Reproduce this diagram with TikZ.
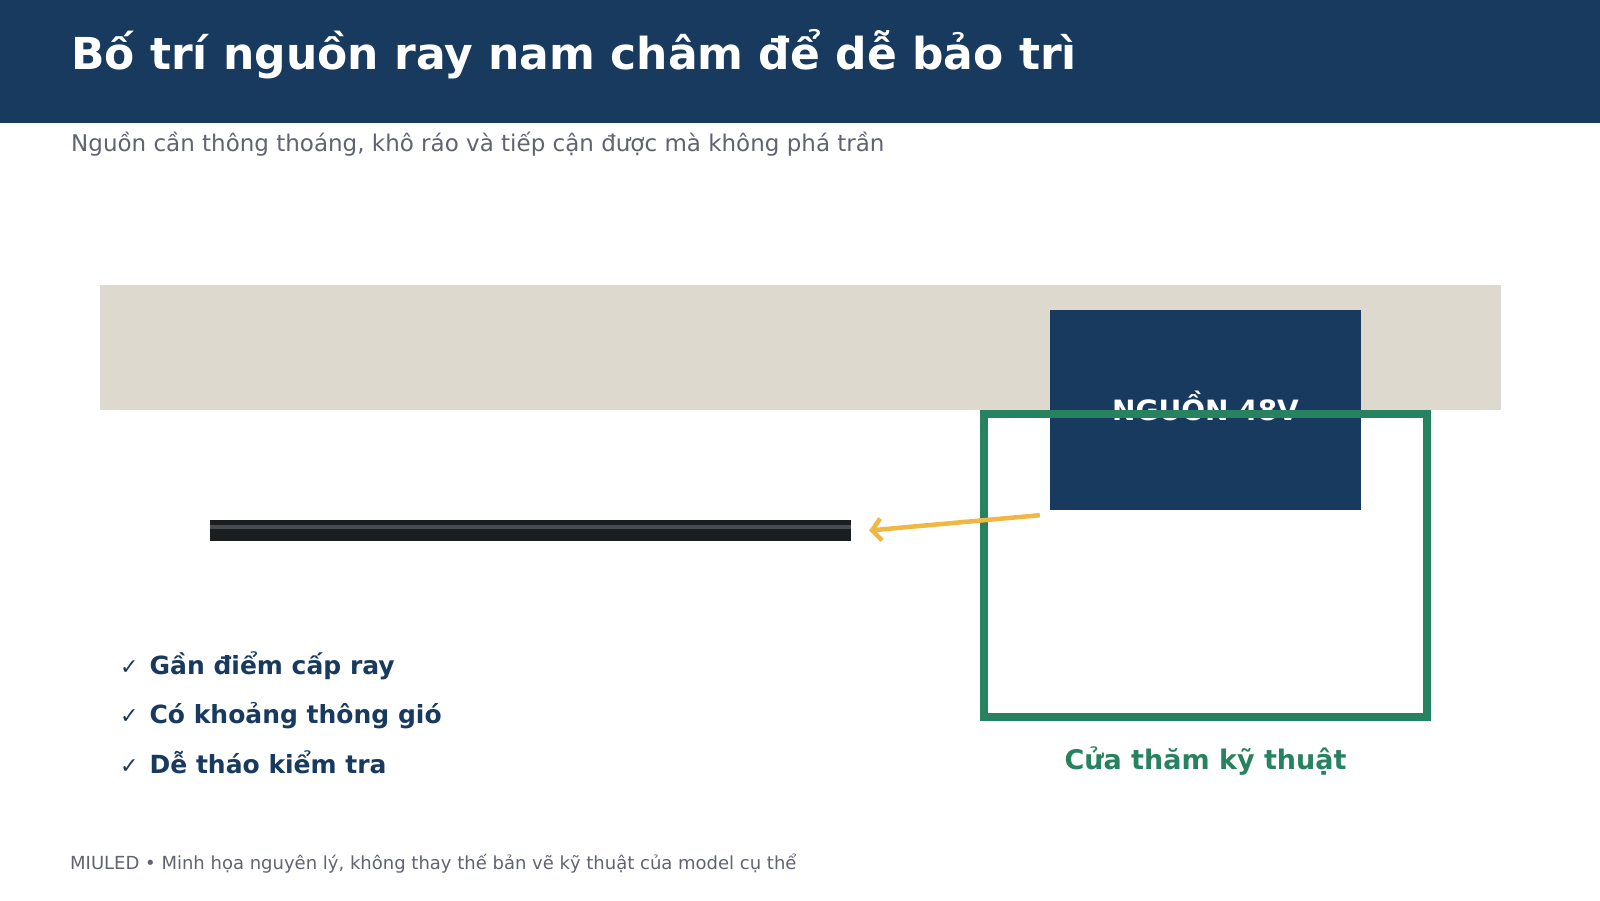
\documentclass[tikz,border=0pt]{standalone}
\usepackage{fontspec}
\setmainfont{DejaVu Sans}
\usetikzlibrary{arrows.meta}

\definecolor{navy}{HTML}{173A5E}
\definecolor{ceiling}{HTML}{DDD9CE}
\definecolor{doorgreen}{HTML}{27825F}
\definecolor{feedorange}{HTML}{F0B842}
\definecolor{greytext}{HTML}{5F6470}
\definecolor{railblack}{HTML}{1B1E21}
\definecolor{railgrey}{HTML}{474D52}

\newcommand{\fs}[1]{\fontsize{#1pt}{#1pt}\selectfont}

\begin{document}
\begin{tikzpicture}[x=1pt, y=-1pt,
    txt/.style={inner sep=0pt, anchor=base west},
    checkitem/.style={txt, text=navy, font=\fs{25}\bfseries},
    psubox/.style={fill=navy, inner sep=0pt, minimum width=311pt, minimum height=200pt},
    doorbox/.style={draw=doorgreen, line width=8pt, inner sep=0pt, minimum width=443pt, minimum height=303pt}]

    \useasboundingbox (0,0) rectangle (1600,900);
    \fill[white] (0,0) rectangle (1600,900);

    % header
    \fill[navy] (0,0) rectangle (1600,122.5);
    \node[txt, text=white, font=\fs{44}\bfseries] (title) at (71,69) {Bố trí nguồn ray nam châm để dễ bảo trì};
    \node[txt, text=greytext, font=\fs{23}] (subtitle) at (71,151.5) {Nguồn cần thông thoáng, khô ráo và tiếp cận được mà không phá trần};

    % ceiling
    \fill[ceiling] (100,285) rectangle (1501,410);

    % power supply
    \node[psubox] (psu) at (1205.5,410) {};
    \node[inner sep=0pt, anchor=base, text=white, font=\fs{28}\bfseries] (psutext) at (1205.5,420) {NGUỒN 48V};

    % access door
    \node[doorbox] (door) at (1205.5,565.5) {};
    \node[inner sep=0pt, anchor=base, text=doorgreen, font=\fs{27}\bfseries] (doortext) at (1205.5,769) {Cửa thăm kỹ thuật};

    % rail
    \node[fill=railblack, inner sep=0pt, minimum width=641pt, minimum height=21pt] (rail) at (530.5,530.5) {};
    \fill[railgrey] ([yshift=-5pt]rail.north west) rectangle ([yshift=-9pt]rail.north east);

    % feed
    \draw[feedorange, line width=4.5pt, -{Straight Barb[length=9pt,width=22pt,line width=4.5pt]}]
        ([xshift=-10pt,yshift=-5pt]psu.south west) -- ([xshift=18pt]rail.east);

    % checklist
    \node[checkitem] (c1) at (120,674) {{\mdseries\fs{22}✓}\hspace{11pt}Gần điểm cấp ray};
    \node[checkitem] (c2) at (120,723) {{\mdseries\fs{22}✓}\hspace{11pt}Có khoảng thông gió};
    \node[checkitem] (c3) at (120,773) {{\mdseries\fs{22}✓}\hspace{11pt}Dễ tháo kiểm tra};

    % footer
    \node[txt, text=greytext, font=\fs{18}] (footer) at (70,869) {MIULED • Minh họa nguyên lý, không thay thế bản vẽ kỹ thuật của model cụ thể};

\end{tikzpicture}
\end{document}
